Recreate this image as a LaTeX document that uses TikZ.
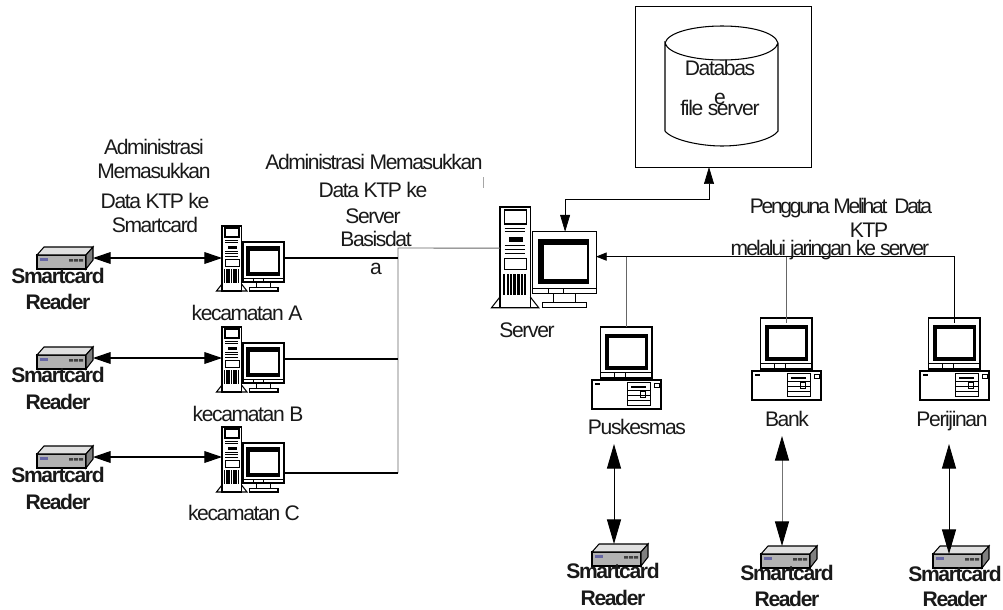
\documentclass[tikz,border=0pt]{standalone}
\usepackage{fontspec}
\setmainfont[LetterSpace=-6.5]{Liberation Sans}
\usetikzlibrary{arrows.meta}
\tikzset{
	lbl/.style={inner sep=0pt,font=\fontsize{18}{20}\selectfont,text height=12.9pt,text depth=0pt,text=black!90},
	lblb/.style={lbl,font=\fontsize{18}{20}\selectfont\bfseries},
	wire/.style={line width=0.9pt},
	greywire/.style={line width=0.8pt,draw=black!60},
	sidetip/.style={wire,<->,>={Triangle[length=15pt,width=10pt]}},
	downtip/.style={line width=0.8pt,<->,>={Triangle[length=21pt,width=12pt]}},
	reader/.pic={
		\fill[black!30,draw=black,line width=0.9pt] (1,8)--(50,8)--(50,22)--(1,22)--cycle;
		\fill[black!12,draw=black,line width=0.9pt] (1,8)--(8,0)--(57,0)--(50,8)--cycle;
		\fill[black!50,draw=black,line width=0.9pt] (50,8)--(57,0)--(57,13)--(50,22)--cycle;
		\fill[blue!40!black!60] (4,11) rectangle (12,14);
		\fill[black!75] (33,12) rectangle (37,14.5) (38,12) rectangle (42,14.5) (43,12) rectangle (47,14.5);
		\coordinate (-r) at (57,11);
		\coordinate (-t) at (23,0);
	},
	towerpc/.pic={
		% kast
		\draw[line width=1.1pt] (0,0) rectangle (19.5,65);
		\draw[line width=0.9pt] (0,58)--(-5.5,65)--(25,65)--(19.5,58);
		\draw[line width=1.1pt] (3,2) rectangle (17,11);
		\draw[line width=0.6pt] (3,14)--(16,14) (3,16)--(16,16) (3,25)--(16,25) (3,27)--(16,27) (3,30)--(16,30);
		\fill (6,19.5) rectangle (15,22.5);
		\draw[line width=0.7pt] (3,33) rectangle (17,40);
		\foreach \xx in {2,4.2,6.4,8.6,11.2,13.4,15.6}
			\fill (\xx,43) rectangle ++(1.4,14);
		% monitor
		\draw[line width=1pt,fill=white] (21,16) rectangle (62,56);
		\fill (24.3,20.4) rectangle (57.6,49.5);
		\fill[white] (28.2,24.7) rectangle (55.9,46.2);
		\draw[line width=0.5pt] (21,52.7)--(62,52.7) (31,52.7)--(31,56) (41,52.7)--(41,56);
		\draw[line width=0.8pt] (34.4,56)--(34.4,61.7) (48.6,56)--(48.6,61.7);
		\draw[line width=0.9pt,fill=white] (27.5,61.7) rectangle (56,65);
		\coordinate (-l) at (0,26.5);
		\coordinate (-la) at (0,31);
		\coordinate (-r) at (62,32);
		\coordinate (-rb) at (62,46);
		\coordinate (-t) at (42,16);
	},
	deskpc/.pic={
		\draw[line width=1pt] (8.3,0) rectangle (60,51);
		\fill (13.3,6.7) rectangle (56,43);
		\fill[white] (17.3,10.7) rectangle (52.7,39);
		\draw[line width=0.5pt] (8.3,45.7)--(60,45.7) (22,45.7)--(22,51) (33,45.7)--(33,51);
		\draw[line width=1pt] (15,51)--(15,53) (53,51)--(53,53);
		\draw[line width=1pt] (0,53) rectangle (69,82);
		\draw[line width=0.5pt] (35,55.7) rectangle (58,78) (35,63)--(58,63) (35,68)--(58,68) (35,73)--(58,73);
		\fill (39,59) rectangle (54,60.5);
		\draw[line width=0.6pt] (48,64.5) rectangle (53,70);
		\fill (3,56) rectangle (8,58);
		\draw[line width=0.6pt] (62,56) rectangle (67,60.5);
		\coordinate (-t) at (34.5,0);
		\coordinate (-s) at (34.5,5);
	},
}
\begin{document}
\begin{tikzpicture}[x=0.03cm,y=-0.03cm]
	\useasboundingbox (0,0) rectangle (1003,609);
	% database
	\node[draw,line width=0.6pt,minimum width=5.28cm,minimum height=4.83cm,inner sep=0pt,outer sep=0pt] (dbbox) at (723,86.5) {};
	\draw[line width=0.9pt] (665,43) .. controls (668,32) and (695,26) .. (722,26) .. controls (750,26) and (775,32) .. (778,43) .. controls (775,54) and (750,60) .. (722,60) .. controls (695,60) and (668,54) .. (665,43) -- (665,131) .. controls (672,140) and (700,146) .. (722,146) .. controls (745,146) and (772,140) .. (778,131) -- (778,43);
	% pc
	\pic (pcA) at (222,226) {towerpc};
	\pic (pcB) at (222,327) {towerpc};
	\pic (pcC) at (222,427) {towerpc};
	\pic[scale=1.55] (srv) at (500,207) {towerpc};
	\pic (deskP) at (592,327) {deskpc};
	\pic (deskB) at (752,318) {deskpc};
	\pic (deskI) at (920,318) {deskpc};
	\pic (rdA) at (36,247) {reader};
	\pic (rdB) at (36,347) {reader};
	\pic (rdC) at (36,446) {reader};
	\pic (rdP) at (591,544) {reader};
	\pic (rdK) at (760,546) {reader};
	\pic (rdI) at (932,546) {reader};
	% jaringan kiri
	\coordinate (busT) at (398,248);
	\coordinate (busB) at (398,473);
	\draw[greywire] (busB)--(busT)--(srv-l);
	\draw[wire] (pcA-r)--(pcA-r -| busT);
	\draw[wire] (pcB-r)--(pcB-r -| busT);
	\draw[wire] (pcC-rb)--(busB);
	\draw[sidetip] (rdA-r)--(rdA-r -| pcA-la);
	\draw[sidetip] (rdB-r)--(rdB-r -| pcB-la);
	\draw[sidetip] (rdC-r)--(rdC-r -| pcC-la);
	% ke database
	\coordinate (elbow) at (709,199);
	\draw[line width=0.6pt,<->,>={Triangle[length=14.5pt,width=8.5pt]}] (srv-t)|-(elbow)--(elbow |- dbbox.south);
	% jaringan kanan
	\draw[line width=0.6pt,<-,>={Triangle[length=9pt,width=7pt]}] (srv-r)--(srv-r -| deskI-s)--(deskI-s);
	\draw[greywire] (srv-r -| deskP-t)--(deskP-t);
	\draw[greywire] (srv-r -| deskB-s)--(deskB-s);
	% reader bawah
	\coordinate (upP) at (614,444);
	\coordinate (upK) at (782,436);
	\coordinate (upI) at (949,444);
	\coordinate (rdIin) at (949,554);
	\draw[downtip] (upP)--(upP |- rdP-t);
	\draw[downtip,draw=black!55,{Triangle[length=21pt,width=12pt,black]}-{Triangle[length=21pt,width=12pt,black]}] (upK)--(upK |- rdK-t);
	\draw[downtip] (upI)--(rdIin);
	% label reader
	\foreach \nm/\xx/\ya/\yb in {A/58/276/302,B/58/375/402,C/58/475/502,P/613/571/598,K/787/573/598.5,I/955/574/598.5}{
		\node[lblb] (smart\nm) at (\xx,\ya) {Smartcard};
		\node[lblb] (read\nm) at (\xx,\yb) {Reader};
	}
	% label
	\node[lbl] (kecA) at (247,313) {kecamatan A};
	\node[lbl] (kecB) at (248,414) {kecamatan B};
	\node[lbl] (kecC) at (244,513) {kecamatan C};
	\node[lbl] (lblsrv) at (527,330) {Server};
	\node[lbl] (lblP) at (637,427) {Puskesmas};
	\node[lbl] (lblK) at (787,419) {Bank};
	\node[lbl] (lblI) at (952,419) {Perijinan};
	\node[lbl] (adm1) at (154,147) {Administrasi};
	\node[lbl] (adm2) at (154,171) {Memasukkan};
	\node[lbl] (adm3) at (155,201) {Data KTP ke};
	\node[lbl] (adm4) at (155,225) {Smartcard};
	\node[lbl] (srv1) at (374,162) {Administrasi Memasukkan};
	\node[lbl] (srv2) at (373,190) {Data KTP ke};
	\node[lbl] (srv3) at (373,216) {Server};
	\node[lbl] (srv4) at (376,239) {Basisdat};
	\node[lbl] (srv5) at (376,267) {a};
	\node[lbl] (db1) at (720,68) {Databas};
	\node[lbl] (db2) at (720,97) {e};
	\node[lbl] (db3) at (720,108) {file server};
	\node[lbl] (pg1) at (841,206) {\addfontfeature{LetterSpace=-11}Pengguna Melihat\ \ Data};
	\node[lbl] (pg2) at (869,230) {KTP};
	\node[lbl] (pg3) at (830,248) {\addfontfeature{LetterSpace=-9}melalui jaringan ke server};
	% garis kecil
	\coordinate (tickT) at (483,177);
	\coordinate (tickB) at (483,188);
	\draw[draw=black!35,line width=0.5pt] (tickT)--(tickB);
\end{tikzpicture}
\end{document}
